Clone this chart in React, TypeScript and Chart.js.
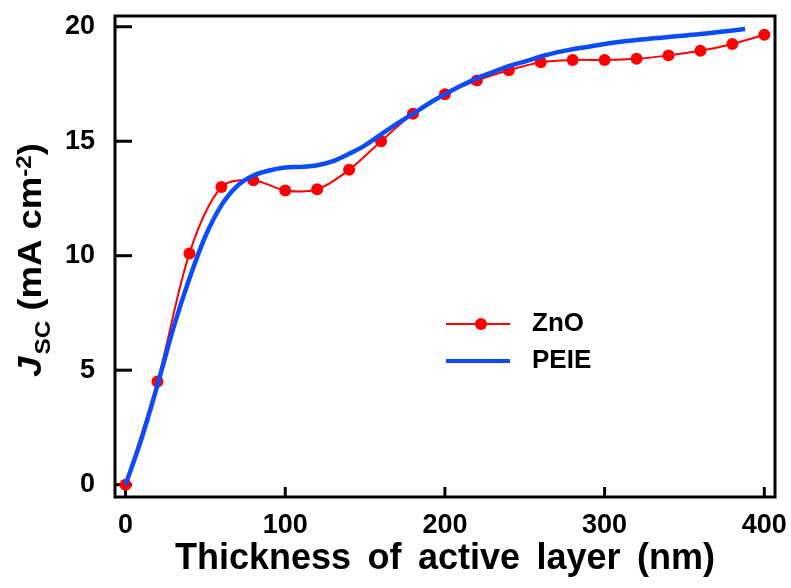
import React, { useEffect, useRef } from "react";
import { Chart, registerables } from "chart.js";

Chart.register(...registerables);

const thicknessZnO = [0, 20, 40, 60, 80, 100, 120, 140, 160, 180, 200, 220, 240, 260, 280, 300, 320, 340, 360, 380, 400];
const jscZnO = [0, 4.5, 10.1, 13.0, 13.3, 12.85, 12.9, 13.75, 15.0, 16.2, 17.05, 17.65, 18.1, 18.45, 18.55, 18.55, 18.6, 18.75, 18.95, 19.25, 19.65];

const thicknessPEIE = [0, 10, 20, 30, 40, 50, 60, 70, 80, 90, 100, 110, 120, 130, 140, 150, 160, 170, 180, 190, 200, 210, 220, 230, 240, 250, 260, 270, 280, 290, 300, 320, 340, 360, 388];
const jscPEIE = [0, 2.0, 4.35, 6.85, 9.0, 10.85, 12.2, 13.05, 13.5, 13.72, 13.85, 13.88, 13.95, 14.13, 14.45, 14.82, 15.3, 15.77, 16.2, 16.65, 17.05, 17.42, 17.75, 18.02, 18.28, 18.48, 18.7, 18.88, 19.02, 19.13, 19.25, 19.42, 19.55, 19.68, 19.9];

const xTicks = [0, 100, 200, 300, 400];
const yTicks = [0, 5, 10, 15, 20];

const seriesNames = ["ZnO", "PEIE"];
const xTitleWords = ["Thickness", "of", "active", "layer", "(nm)"];

const FONT = "'Liberation Sans', Arial, sans-serif";

const framePlugin = {
  id: "frame",
  beforeDatasetsDraw(chart: any) {
    const ctx = chart.ctx as CanvasRenderingContext2D;
    const { left, right, top, bottom } = chart.chartArea;
    const xs = chart.scales.x;
    const ys = chart.scales.y;
    ctx.save();
    ctx.strokeStyle = "#000";
    ctx.lineWidth = 3;
    ctx.strokeRect(left, top, right - left, bottom - top);
    yTicks.forEach((v) => {
      const py = ys.getPixelForValue(v);
      ctx.beginPath();
      ctx.moveTo(left, py);
      ctx.lineTo(left + 17, py);
      ctx.stroke();
    });
    xTicks.forEach((v) => {
      const px = xs.getPixelForValue(v);
      ctx.beginPath();
      ctx.moveTo(px, bottom);
      ctx.lineTo(px, bottom - 10);
      ctx.stroke();
    });
    ctx.restore();
  },
};

const decorPlugin = {
  id: "decor",
  afterDraw(chart: any) {
    const ctx = chart.ctx as CanvasRenderingContext2D;
    ctx.save();
    ctx.fillStyle = "#000";

    // x title, words spread to span 175..715
    ctx.font = `bold 36px ${FONT}`;
    ctx.textAlign = "left";
    ctx.textBaseline = "alphabetic";
    const ws = xTitleWords.map((w) => ctx.measureText(w).width);
    const sum = ws.reduce((a, b) => a + b, 0);
    const gap = (540 - sum) / (xTitleWords.length - 1);
    let xx = 175;
    xTitleWords.forEach((w, i) => {
      ctx.fillText(w, xx, 569);
      xx += ws[i] + gap;
    });

    // y title (rotated)
    const segs = [
      { t: "J", f: `italic bold 33px ${FONT}`, dv: 0, gap: 2 },
      { t: "SC", f: `bold 22px ${FONT}`, dv: 9, gap: 0 },
      { t: " (mA cm", f: `bold 33px ${FONT}`, dv: 0, gap: 0 },
      { t: "-2", f: `bold 22px ${FONT}`, dv: -10, gap: 0 },
      { t: ")", f: `bold 33px ${FONT}`, dv: 0, gap: 0 },
    ];
    let total = 0;
    const widths: number[] = [];
    segs.forEach((s) => {
      ctx.font = s.f;
      const w = ctx.measureText(s.t).width + s.gap;
      widths.push(w);
      total += w;
    });
    const target = 234;
    const k = target / total;
    ctx.translate(41, 260 + target / 2);
    ctx.rotate(-Math.PI / 2);
    ctx.scale(k, 1);
    ctx.textAlign = "left";
    let u = 0;
    segs.forEach((s, i) => {
      ctx.font = s.f;
      ctx.fillText(s.t, u, s.dv);
      u += widths[i];
    });
    ctx.restore();

    // legend
    ctx.save();
    ctx.lineWidth = 2;
    ctx.strokeStyle = "#ff0000";
    ctx.beginPath();
    ctx.moveTo(446, 324);
    ctx.lineTo(510, 324);
    ctx.stroke();
    ctx.fillStyle = "#ff0000";
    ctx.beginPath();
    ctx.arc(481, 324, 6, 0, Math.PI * 2);
    ctx.fill();
    ctx.lineWidth = 4;
    ctx.strokeStyle = "#0a4bff";
    ctx.beginPath();
    ctx.moveTo(446, 361);
    ctx.lineTo(510, 361);
    ctx.stroke();
    ctx.fillStyle = "#000";
    ctx.font = `bold 26px ${FONT}`;
    ctx.textAlign = "left";
    ctx.textBaseline = "alphabetic";
    ctx.fillText(seriesNames[0], 532, 331);
    ctx.fillText(seriesNames[1], 532, 368);
    ctx.restore();
  },
};

export default function App() {
  const ref = useRef<HTMLCanvasElement | null>(null);
  useEffect(() => {
    if (!ref.current) return;
    const zeroPad = (s: any) => {
      s.paddingTop = 0;
      s.paddingBottom = 0;
      s.paddingLeft = 0;
      s.paddingRight = 0;
    };
    const chart = new Chart(ref.current, {
      type: "line",
      data: {
        datasets: [
          {
            label: seriesNames[1],
            data: thicknessPEIE.map((x, i) => ({ x, y: jscPEIE[i] })),
            borderColor: "#0a4bff",
            backgroundColor: "#0a4bff",
            borderWidth: 4.5,
            pointRadius: 0,
            cubicInterpolationMode: "monotone",
            order: 0,
          },
          {
            label: seriesNames[0],
            data: thicknessZnO.map((x, i) => ({ x, y: jscZnO[i] })),
            borderColor: "#ff0000",
            backgroundColor: "#ff0000",
            borderWidth: 2,
            pointRadius: 6,
            pointBorderWidth: 0,
            pointBackgroundColor: "#ff0000",
            tension: 0.3,
            order: 1,
          },
        ],
      },
      options: {
        animation: false,
        responsive: false,
        devicePixelRatio: 1,
        layout: { padding: { top: 16, right: 16, left: 0, bottom: 0 } },
        plugins: { legend: { display: false }, tooltip: { enabled: false }, title: { display: false } },
        scales: {
          x: {
            type: "linear",
            min: -6.6,
            max: 406.7,
            grid: { display: false },
            border: { display: false },
            afterBuildTicks: (s: any) => {
              s.ticks = xTicks.map((v) => ({ value: v }));
            },
            afterFit: (s: any) => {
              s.height = 91;
              zeroPad(s);
            },
            ticks: {
              color: "#000",
              padding: 4,
              maxRotation: 0,
              autoSkip: false,
              font: { family: FONT, weight: "bold", size: 27 },
            },
          },
          y: {
            type: "linear",
            min: -0.54,
            max: 20.47,
            grid: { display: false },
            border: { display: false },
            afterBuildTicks: (s: any) => {
              s.ticks = yTicks.map((v) => ({ value: v }));
            },
            afterFit: (s: any) => {
              s.width = 115;
              zeroPad(s);
            },
            ticks: {
              color: "#000",
              padding: 12,
              autoSkip: false,
              font: { family: FONT, weight: "bold", size: 27 },
            },
          },
        },
      } as any,
      plugins: [framePlugin, decorPlugin],
    });
    return () => chart.destroy();
  }, []);
  return (
    <div style={{ position: "fixed", left: 0, top: 0, width: 791, height: 588, background: "#fff" }}>
      <canvas ref={ref} width={791} height={588} style={{ width: 791, height: 588, display: "block" }} />
    </div>
  );
}
